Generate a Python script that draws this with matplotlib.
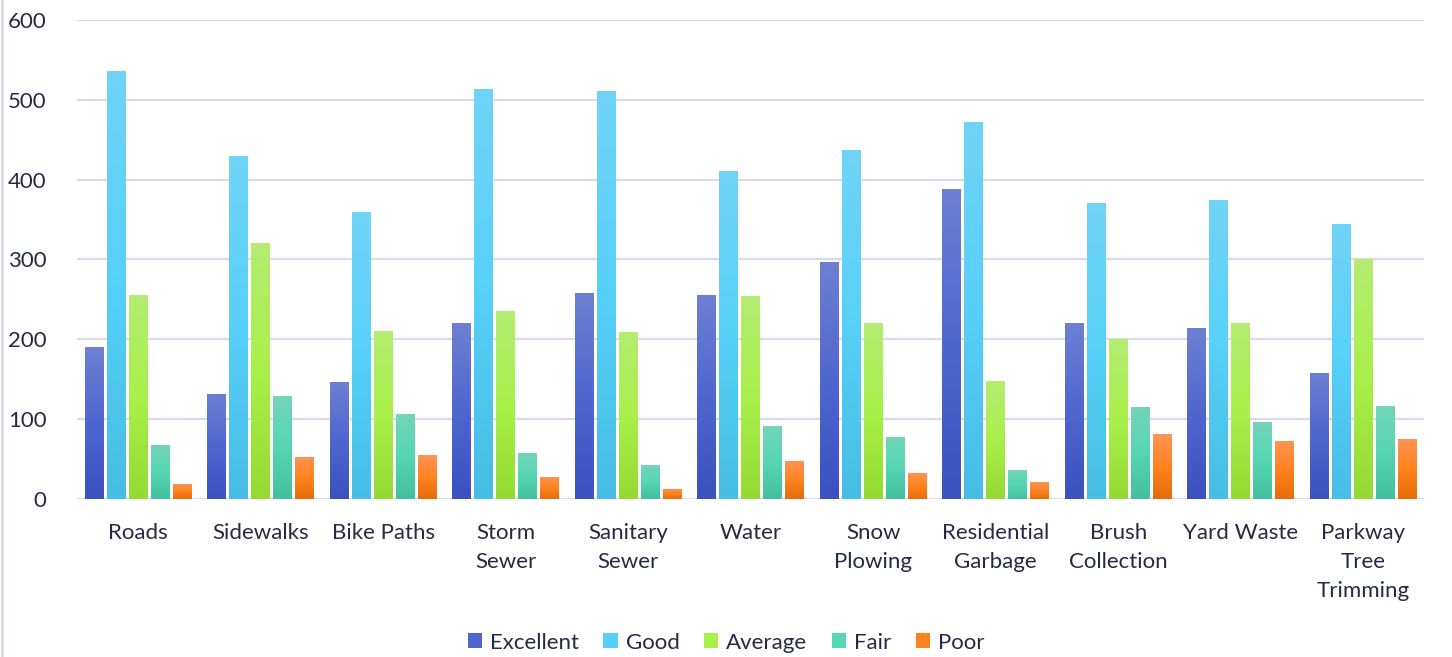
import numpy as np
import matplotlib
matplotlib.use("Agg")
import matplotlib.pyplot as plt
from matplotlib.colors import LinearSegmentedColormap
from matplotlib.lines import Line2D
from matplotlib.patches import Patch

plt.rcParams['font.family'] = ['Lato', 'DejaVu Sans']

categories = ["Roads", "Sidewalks", "Bike Paths", "Storm\nSewer", "Sanitary\nSewer", "Water",
              "Snow\nPlowing", "Residential\nGarbage", "Brush\nCollection", "Yard Waste",
              "Parkway\nTree\nTrimming"]
excellent = [190, 132, 147, 221, 258, 256, 297, 388, 221, 214, 158]
good = [536, 429, 360, 514, 511, 411, 437, 472, 371, 375, 345]
average = [256, 321, 211, 236, 209, 254, 221, 148, 200, 221, 300]
fair = [68, 129, 107, 58, 43, 91, 78, 36, 115, 96, 117]
poor = [19, 53, 55, 28, 13, 48, 33, 21, 81, 73, 75]

series = [("Excellent", excellent), ("Good", good), ("Average", average),
          ("Fair", fair), ("Poor", poor)]
# top, middle, bottom colours of each gradient
grads = [("#6e80d2", "#5066cf", "#3a51bf"),
         ("#70d4f6", "#57d0f9", "#45bde4"),
         ("#b4ec72", "#a8f04a", "#93da33"),
         ("#74d4b9", "#56d6b2", "#43bf9e"),
         ("#ff9454", "#ff8420", "#e66c0a")]

text_col = "#262a44"
grid_col = "#d9dbec"
fs = 16

fig = plt.figure(figsize=(14.52, 6.57), dpi=100)
ax = fig.add_axes([0.053, 0.2405, 0.928, 0.7291])

x = np.arange(len(categories))
pitch = 0.18
width = 0.155
grad = np.linspace(1, 0, 256).reshape(-1, 1)

for i, (name, vals) in enumerate(series):
    cmap = LinearSegmentedColormap.from_list(name, [grads[i][2], grads[i][1], grads[i][0]])
    bars = ax.bar(x + (i - 2) * pitch, vals, width, color="none", edgecolor="none", zorder=3)
    for b in bars:
        x0, y0 = b.get_x(), b.get_y()
        im = ax.imshow(grad, cmap=cmap, aspect="auto", vmin=0, vmax=1,
                       extent=(x0, x0 + b.get_width(), y0, y0 + b.get_height()),
                       zorder=3, interpolation="bilinear")
        im.set_clip_path(b)

ax.set_xlim(-0.5, len(categories) - 0.5)
ax.set_ylim(0, 600)
ax.set_yticks(range(0, 601, 100))
ax.set_xticks(x)
ax.set_xticklabels(categories, linespacing=1.56)
ax.grid(axis="y", color=grid_col, linewidth=1.6, zorder=0)
ax.set_axisbelow(True)
for s in ax.spines.values():
    s.set_visible(False)
ax.tick_params(axis="both", length=0, labelsize=fs, colors=text_col)
ax.tick_params(axis="y", pad=22)
ax.tick_params(axis="x", pad=17)

handles = [Patch(facecolor=g[1], edgecolor="none") for g in grads]
fig.legend(handles, [s[0] for s in series], loc="center", bbox_to_anchor=(0.5, 0.022),
           ncol=5, frameon=False, fontsize=fs, handlelength=0.65, handleheight=0.65,
           handletextpad=0.35, columnspacing=1.1, labelcolor=text_col)

fig.add_artist(Line2D([0.0015, 0.0015], [0, 1], transform=fig.transFigure,
                      color="#d6d8ec", linewidth=2))

fig.savefig("out.png", dpi=100, facecolor="white")
plt.close()
